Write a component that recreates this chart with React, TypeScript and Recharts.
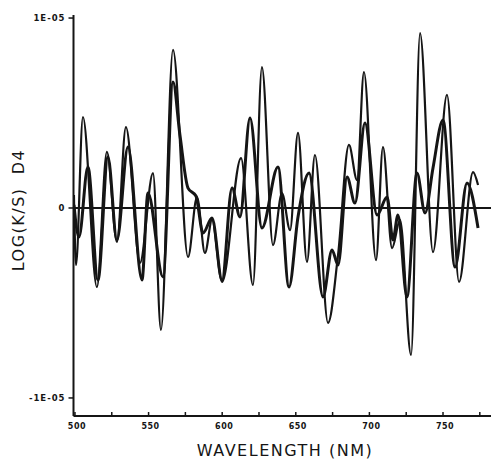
import { LineChart, Line, XAxis, YAxis, ReferenceLine } from "recharts";

// wavelengths (nm) and log(K/S) D4 values in units of 1E-06
const wavelengthsA = [
  499.3, 500.7, 505.4, 514.9, 521.7, 528.5, 534.6, 544.2, 553.0, 558.4, 566.6,
  576.8, 582.9, 588.3, 593.1, 599.9, 612.8, 620.9, 627.0, 634.5, 640.6, 646.1,
  651.5, 657.6, 663.0, 671.9, 678.7, 686.1, 691.6, 696.3, 704.5, 709.2, 715.4,
  720.8, 728.3, 734.4, 743.2, 752.7, 760.9, 770.4, 773.8,
];
const valuesA = [
  0.68, -3.0, 4.79, -4.16, 2.95, -1.79, 4.26, -2.89, 1.84, -6.42, 8.32,
  -2.58, 0.58, -2.37, -0.63, -3.89, 2.63, -4.05, 7.42, -1.95, 0.79, -1.16,
  3.95, -2.84, 2.79, -6.05, -2.47, 3.32, 1.47, 7.16, -2.74, 3.21, -2.11,
  -0.63, -7.74, 9.21, -2.32, 5.95, -3.89, 1.89, 1.21,
];

const wavelengthsB = [
  499.3, 502.7, 508.8, 515.6, 522.4, 528.5, 536.0, 545.5, 549.6, 559.8, 566.6,
  571.3, 576.8, 582.2, 587.0, 593.1, 599.9, 606.7, 612.1, 618.9, 627.0, 637.9,
  645.4, 651.5, 659.0, 668.5, 674.6, 678.7, 684.8, 690.2, 697.0, 705.2, 712.0,
  716.0, 719.4, 725.5, 732.3, 737.8, 743.2, 750.0, 758.2, 766.3, 773.8,
];
const valuesB = [
  0.16, -1.53, 2.16, -3.79, 2.68, -1.68, 3.21, -3.79, 0.79, -3.63, 6.63,
  3.84, 1.05, 0.63, -1.32, -0.53, -3.79, 1.05, -0.47, 4.74, -1.05, 2.16,
  -4.16, -0.47, 1.84, -4.68, -2.21, -3.0, 1.63, 0.26, 4.47, -0.37, 0.58,
  -1.68, -0.37, -4.68, 1.84, -0.26, 2.11, 4.63, -3.11, 1.32, -1.05,
];

const xTicks = [500, 525, 550, 575, 600, 625, 650, 675, 700, 725, 750, 775];
const xLabels = [500, 550, 600, 650, 700, 750];
const yTicks = [-10, 0, 10];
const yTickLabels: Record<number, string> = { 10: "1E-05", 0: "0", "-10": "-1E-05" };

const seriesA = wavelengthsA.map((nm, i) => ({ nm, v: valuesA[i] }));
const seriesB = wavelengthsB.map((nm, i) => ({ nm, v: valuesB[i] }));

const INK = "#151515";

function XTick(props: any) {
  const { x, y, payload } = props;
  const labelled = xLabels.includes(payload.value);
  return (
    <g>
      <line x1={x} x2={x} y1={y} y2={y - 4} stroke={INK} strokeWidth={1.5} />
      {labelled && (
        <text
          x={x + 2}
          y={y + 13}
          textAnchor="middle"
          fontSize={8}
          fontWeight="bold"
          fontFamily="DejaVu Sans"
          letterSpacing={0.5}
          fill={INK}
        >
          {payload.value}
        </text>
      )}
    </g>
  );
}

export default function App() {
  return (
    <div
      style={{
        position: "absolute",
        left: 0,
        top: 0,
        width: 493,
        height: 463,
        background: "#fff",
        overflow: "hidden",
      }}
    >
      <LineChart
        width={493}
        height={463}
        margin={{ top: 15, right: 2, bottom: 17, left: 13.5 }}
      >
        <XAxis
          type="number"
          dataKey="nm"
          domain={[499, 782.6]}
          ticks={xTicks}
          tick={<XTick />}
          tickLine={false}
          tickSize={0}
          tickMargin={0}
          height={30}
          axisLine={{ stroke: INK, strokeWidth: 2 }}
          allowDataOverflow
        />
        <YAxis
          type="number"
          dataKey="v"
          domain={[-10.95, 10.16]}
          ticks={yTicks}
          width={60}
          tickSize={5}
          tickMargin={3}
          tickFormatter={(v: number) => yTickLabels[v]}
          tick={{
            fontSize: 8.5,
            fontWeight: "bold",
            fill: INK,
            fontFamily: "DejaVu Sans",
            letterSpacing: 1,
          }}
          tickLine={{ stroke: INK, strokeWidth: 1.5 }}
          axisLine={{ stroke: INK, strokeWidth: 2 }}
          allowDataOverflow
        />
        <ReferenceLine y={0} stroke={INK} strokeWidth={2} />
        <Line
          data={seriesA}
          dataKey="v"
          type="monotone"
          stroke={INK}
          strokeWidth={2.2}
          dot={false}
          isAnimationActive={false}
        />
        <Line
          data={seriesB}
          dataKey="v"
          type="monotone"
          stroke={INK}
          strokeWidth={3}
          dot={false}
          isAnimationActive={false}
        />
      </LineChart>
      <div
        style={{
          position: "absolute",
          left: 18,
          top: 210,
          transform: "translate(-50%, -50%) rotate(-90deg)",
          whiteSpace: "nowrap",
          fontFamily: "DejaVu Sans",
          fontSize: 16,
          letterSpacing: 1.5,
          color: INK,
        }}
      >
        LOG(K/S)&nbsp;&nbsp;D4
      </div>
      <div
        style={{
          position: "absolute",
          left: 285,
          top: 450,
          transform: "translate(-50%, -50%)",
          whiteSpace: "nowrap",
          fontFamily: "DejaVu Sans",
          fontSize: 16,
          letterSpacing: 1.5,
          color: INK,
        }}
      >
        WAVELENGTH (NM)
      </div>
    </div>
  );
}
